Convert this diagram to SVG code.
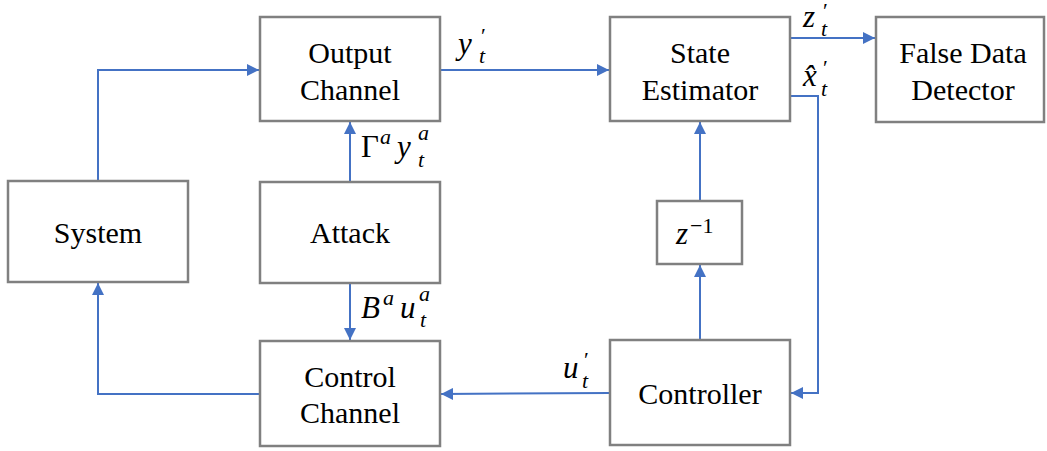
<svg xmlns="http://www.w3.org/2000/svg" width="1047" height="451" viewBox="0 0 1047 451">
<defs>
<marker id="ah" markerWidth="12" markerHeight="12" refX="12" refY="6" orient="auto" markerUnits="userSpaceOnUse">
<path d="M0,0 L12,6 L0,12 Z" fill="#4472C4"/>
</marker>
</defs>
<g id="connectors" fill="none" stroke="#4472C4" stroke-width="2">
<path d="M98,181 V70 H259" marker-end="url(#ah)"/>
<path d="M260,394 H98 V283" marker-end="url(#ah)"/>
<path d="M350,182 V122" marker-end="url(#ah)"/>
<path d="M350,283 V340" marker-end="url(#ah)"/>
<path d="M440,70 H609" marker-end="url(#ah)"/>
<path d="M790,38 H875" marker-end="url(#ah)"/>
<path d="M790,96 H818 V393 H791" marker-end="url(#ah)"/>
<path d="M700,340 V265" marker-end="url(#ah)"/>
<path d="M700,201 V122" marker-end="url(#ah)"/>
<path d="M610,393 L441,394" marker-end="url(#ah)"/>
</g>
<g fill="#fff" stroke="#808080" stroke-width="2.5">
<rect id="r-output" x="260" y="17" width="180" height="104"/>
<rect id="r-state" x="610" y="17" width="180" height="104"/>
<rect id="r-fdd" x="876" y="17" width="168" height="105"/>
<rect id="r-system" x="8" y="181" width="180" height="101"/>
<rect id="r-attack" x="260" y="182" width="180" height="101"/>
<rect id="r-delay" x="657" y="201" width="85" height="63"/>
<rect id="r-control" x="260" y="341" width="180" height="105"/>
<rect id="r-controller" x="610" y="340" width="180" height="105"/>
</g>
<g id="output-channel" font-family="Liberation Serif" font-size="30" text-anchor="middle">
<text x="350" y="63">Output</text>
<text x="350" y="100">Channel</text>
</g>
<g id="state-estimator" font-family="Liberation Serif" font-size="30" text-anchor="middle">
<text x="700" y="63">State</text>
<text x="700" y="100">Estimator</text>
</g>
<g id="false-data-detector" font-family="Liberation Serif" font-size="30" text-anchor="middle">
<text x="963" y="63">False Data</text>
<text x="963" y="100">Detector</text>
</g>
<g id="system" font-family="Liberation Serif" font-size="30" text-anchor="middle">
<text x="98" y="243">System</text>
</g>
<g id="attack" font-family="Liberation Serif" font-size="30" text-anchor="middle">
<text x="350" y="243">Attack</text>
</g>
<g id="delay" font-family="Liberation Serif">
<text x="676" y="244" font-size="31" font-style="italic">z<tspan font-size="22" font-style="normal" dx="2" dy="-11">&#8722;1</tspan></text>
</g>
<g id="control-channel" font-family="Liberation Serif" font-size="30" text-anchor="middle">
<text x="350" y="387">Control</text>
<text x="350" y="423">Channel</text>
</g>
<g id="controller" font-family="Liberation Serif" font-size="30" text-anchor="middle">
<text x="700" y="404">Controller</text>
</g>
<g id="labels" font-family="Liberation Serif" font-size="31" font-style="italic">
<text x="458" y="54">y<tspan font-size="22" font-style="normal" x="481" y="43">&#8242;</tspan><tspan font-size="22" x="479" y="63">t</tspan></text>
<text x="803" y="27">z<tspan font-size="22" font-style="normal" x="823" y="18">&#8242;</tspan><tspan font-size="22" x="821" y="36">t</tspan></text>
<text x="803" y="86">x&#770;<tspan font-size="22" font-style="normal" x="823" y="75">&#8242;</tspan><tspan font-size="22" x="821" y="96">t</tspan></text>
<text x="361" y="157"><tspan font-style="normal">&#915;</tspan><tspan font-size="22" x="380" y="144">a</tspan><tspan x="397" y="157">y</tspan><tspan font-size="22" x="418" y="140">a</tspan><tspan font-size="22" x="418" y="167">t</tspan></text>
<text x="361" y="318">B<tspan font-size="22" x="383" y="305">a</tspan><tspan x="400" y="318">u</tspan><tspan font-size="22" x="419" y="301">a</tspan><tspan font-size="22" x="420" y="327">t</tspan></text>
<text x="563" y="378">u<tspan font-size="22" font-style="normal" x="584" y="367">&#8242;</tspan><tspan font-size="22" x="582" y="388">t</tspan></text>
</g>
</svg>
